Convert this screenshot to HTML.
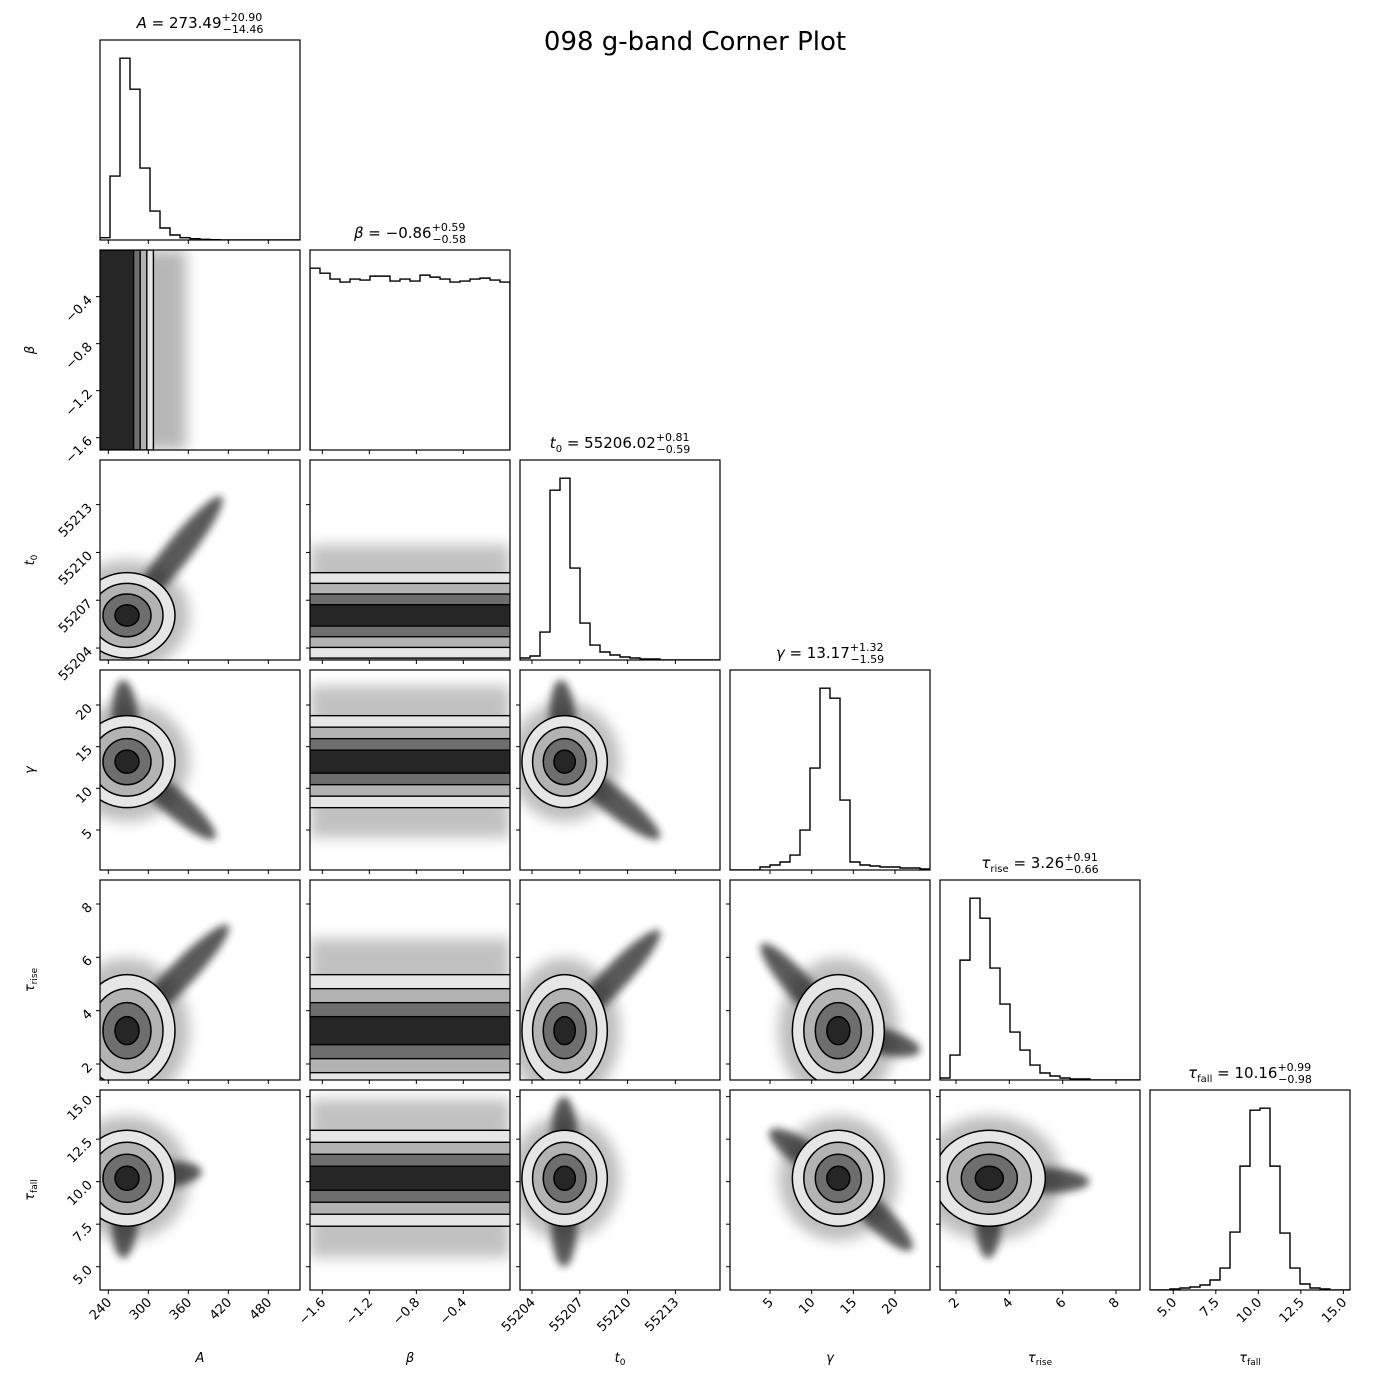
<!DOCTYPE html>
<html><head><meta charset="utf-8"><style>
html,body{margin:0;padding:0;background:#fff;}
svg text{font-family:"DejaVu Sans","Liberation Sans",sans-serif;fill:#000;}
</style></head><body>
<svg id="fig" width="1390" height="1390" viewBox="0 0 1390 1390" xmlns="http://www.w3.org/2000/svg">
<defs>
<filter id="blur3" x="-50%" y="-50%" width="200%" height="200%"><feGaussianBlur stdDeviation="4"/></filter>
<filter id="blur6" x="-50%" y="-50%" width="200%" height="200%"><feGaussianBlur stdDeviation="7"/></filter>
</defs>
<text x="695" y="50" font-size="26" text-anchor="middle">098 g-band Corner Plot</text>
<g id="root"></g>
</svg>
<script>
// ---- data ----
const paramLabels = ["A","β","t0","γ","τrise","τfall"];
const rangeLo = [227.5, -1.705, 55203.25, 0.2, 1.4, 3.63];
const rangeHi = [527.5, -0.003, 55215.8, 24.2, 8.9, 15.39];
const medians = [268, -0.86, 55206.05, 13.2, 3.25, 10.2];
const sigmas = [36, 0, 1.34, 2.76, 1.05, 1.41];
const histA = [2.3,64,182,151,72,29,12,5,2.3,1.3,0.7,0.3,0,0,0,0,0,0,0,0];
const histBeta = [183,178,172,169,172,171,175,175,170,172,170,176,174,172,169,170,172,173,171,169];
const histT0 = [2,4,28,170,182,92,37,15,8,5,3,2,1,1,0,0,0,0,0,0];
const histGamma = [0,0,0,3,5,8,15,40,102,182,172,70,8,5,4,3,3,2,2,1];
const histRise = [2,25,120,182,162,112,76,48,30,15,7,4,2,1,1,0,0,0,0,0];
const histFall = [0,0,1,2,3,5,10,22,58,124,180,182,124,57,22,6,2,1,0,0];
const ticksA = [240,300,360,420,480];
const ticksBeta = [-1.6,-1.2,-0.8,-0.4];
const ticksT0 = [55204,55207,55210,55213];
const ticksGamma = [5,10,15,20];
const ticksRise = [2,4,6,8];
const ticksFall = [5.0,7.5,10.0,12.5,15.0];
const tickLabelsFall = ["5.0","7.5","10.0","12.5","15.0"];
// tails of the sample cloud: [col, row, endX, endY]
const tails = [[0,2,410,55213.5],[0,3,400,4],[0,3,262,23],[0,4,420,7.2],[0,5,380,10.6],[0,5,262,5.5],
 [2,3,55212,4],[2,3,55205.8,23],[2,4,55212,7],[2,5,55206,5],[2,5,55206,15],
 [3,4,23,2.5],[3,4,4,6.5],[3,5,22,6],[3,5,5,13],[4,5,7,10],[4,5,3.2,5.5]];
const titleMain = ["A","β","t","γ","τ","τ"];
const titleSub = ["","","0","","rise","fall"];
const titleVal = ["273.49","−0.86","55206.02","13.17","3.26","10.16"];
const titlePlus = ["+20.90","+0.59","+0.81","+1.32","+0.91","+0.99"];
const titleMinus = ["−14.46","−0.58","−0.59","−1.59","−0.66","−0.98"];

const hists = [histA,histBeta,histT0,histGamma,histRise,histFall];
const ticks = [ticksA,ticksBeta,ticksT0,ticksGamma,ticksRise,ticksFall];
const tickText = [ticksA.map(String), ticksBeta.map(v=>String(v).replace('-','−')), ticksT0.map(String), ticksGamma.map(String), ticksRise.map(String), tickLabelsFall];

// ---- layout ----
const X0=100, Y0=40, S=200, G=10;
const NS="http://www.w3.org/2000/svg";
const root=document.getElementById('root');
const defs=document.querySelector('defs');
function mk(tag,attrs,parent){const e=document.createElementNS(NS,tag);for(const k in attrs)e.setAttribute(k,attrs[k]);(parent||root).appendChild(e);return e;}
function px(p,col,v){return X0+col*(S+G)+(v-rangeLo[p])/(rangeHi[p]-rangeLo[p])*S;}
function py(p,row,v){return Y0+row*(S+G)+S-(v-rangeLo[p])/(rangeHi[p]-rangeLo[p])*S;}
function sx(p){return S/(rangeHi[p]-rangeLo[p]);}

const levels=[2,1.5,1,0.5];
const fills=["#e6e6e6","#b3b3b3","#6e6e6e","#262626"];

for(let row=0;row<6;row++){
 for(let col=0;col<=row;col++){
  const x=X0+col*(S+G), y=Y0+row*(S+G);
  const g=mk('g',{});
  
  
  const cp=mk('clipPath',{id:'c'+col+'_'+row},defs);
  mk('rect',{x:x,y:y,width:S,height:S},cp);
  const inner=mk('g',{'clip-path':'url(#c'+col+'_'+row+')'},g);
  if(col===row){
   const h=hists[col]; const mx=Math.max(...h)*1.1;
   let d='M'+x+','+(y+S);
   for(let i=0;i<h.length;i++){
    const xa=x+i*S/h.length, xb=x+(i+1)*S/h.length, yy=y+S-h[i]/mx*S;
    d+=' L'+xa+','+yy+' L'+xb+','+yy;
   }
   d+=' L'+(x+S)+','+(y+S);
   const p=mk('path',{d:d,fill:'none',stroke:'#000','stroke-width':1.4},inner);
   
   
  } else {
   const cx=medians[col], cy=medians[row];
   if(row===1){ // beta on y: vertical bands
    const X=px(col,col,cx), s=sigmas[col]*sx(col)*0.55;
    mk('rect',{x:x,y:y,width:X-x+4.5*s,height:S,fill:'#888',opacity:0.6,filter:'url(#blur6)'},inner);
    levels.forEach((l,k)=>{mk('rect',{x:x-5,y:y,width:X-x+5+l*s,height:S,fill:fills[k],stroke:'#000','stroke-width':1.4},inner);});
   } else if(col===1){ // beta on x: horizontal bands
    const Y=py(row,row,cy), s=sigmas[row]*sx(row);
    mk('rect',{x:x,y:Y-3.3*s,width:S,height:6.6*s,fill:'#999',opacity:0.6,filter:'url(#blur6)'},inner);
    levels.forEach((l,k)=>{mk('rect',{x:x-5,y:Y-l*s,width:S+10,height:2*l*s,fill:fills[k],stroke:'#000','stroke-width':1.4},inner);});
   } else {
    const X=px(col,col,cx), Y=py(row,row,cy);
    const rx=sigmas[col]*sx(col), ry=sigmas[row]*sx(row);
    mk('ellipse',{cx:X,cy:Y,rx:rx*2.6,ry:ry*2.6,fill:'#888',opacity:0.55,filter:'url(#blur6)'},inner);
    tails.filter(t=>t[0]===col&&t[1]===row).forEach(t=>{
     const ex=px(col,col,t[2]), ey=py(row,row,t[3]);
     const mx=(X+ex)/2, my=(Y+ey)/2, len=Math.hypot(ex-X,ey-Y)/2, ang=Math.atan2(ey-Y,ex-X)*180/Math.PI;
     const e=mk('ellipse',{cx:mx,cy:my,rx:len,ry:13,fill:'#222',opacity:0.75,filter:'url(#blur3)',transform:'rotate('+ang+' '+mx+' '+my+')'},inner);
     
     
    });
    levels.forEach((l,k)=>{
     const e=mk('ellipse',{cx:X,cy:Y,rx:rx*l,ry:ry*l,fill:fills[k],stroke:'#000','stroke-width':1.5},inner);
     
     
    });
   }
  }
  mk('rect',{x:x,y:y,width:S,height:S,fill:'none',stroke:'#000','stroke-width':1.2},g);
  ticks[col].forEach((v,i)=>{
   const tx=px(col,col,v);
   mk('line',{x1:tx,y1:y+S,x2:tx,y2:y+S+4,stroke:'#000','stroke-width':1},g);
   if(row===5){
    const t=mk('text',{x:tx+4,y:y+S+13,'font-size':13,'text-anchor':'end',transform:'rotate(-45 '+(tx+4)+' '+(y+S+13)+')'},g);
    t.textContent=tickText[col][i];
    
    
   }
  });
  if(col!==row){
   ticks[row].forEach((v,i)=>{
    const ty=py(row,row,v);
    mk('line',{x1:x,y1:ty,x2:x-4,y2:ty,stroke:'#000','stroke-width':1},g);
    if(col===0){
     const t=mk('text',{x:x-7,y:ty+4,'font-size':13,'text-anchor':'end',transform:'rotate(-45 '+(x-7)+' '+(ty+4)+')'},g);
     t.textContent=tickText[row][i];
     
     
    }
   });
  }
 }
 const cxT=X0+row*(S+G)+S/2, yT=Y0+row*(S+G)-12;
 const t=mk('text',{x:cxT,y:yT,'font-size':15,'text-anchor':'middle'});
 
 
 let s='<tspan font-style="italic">'+titleMain[row]+'</tspan>';
 if(titleSub[row]) s+='<tspan font-size="10" dy="4">'+titleSub[row]+'</tspan><tspan dy="-4"> </tspan>';
 s+=' = '+titleVal[row]+'<tspan font-size="11" dy="-7">'+titlePlus[row]+'</tspan><tspan font-size="11" dx="-'+(titlePlus[row].length*6.6)+'" dy="12">'+titleMinus[row]+'</tspan>';
 t.innerHTML=s;
}
for(let i=0;i<6;i++){
 const cx=X0+i*(S+G)+S/2;
 const xl=mk('text',{x:cx,y:1362,'font-size':13,'text-anchor':'middle'});
 
 
 xl.innerHTML='<tspan font-style="italic">'+titleMain[i]+'</tspan>'+(titleSub[i]?'<tspan font-size="9" dy="3">'+titleSub[i]+'</tspan>':'');
 if(i>0){
  const cy=Y0+i*(S+G)+S/2;
  const yl=mk('text',{x:34,y:cy,'font-size':13,'text-anchor':'middle',transform:'rotate(-90 34 '+cy+')'});
  
  
  yl.innerHTML='<tspan font-style="italic">'+titleMain[i]+'</tspan>'+(titleSub[i]?'<tspan font-size="9" dy="3">'+titleSub[i]+'</tspan>':'');
 }
}
</script>
</body></html>
